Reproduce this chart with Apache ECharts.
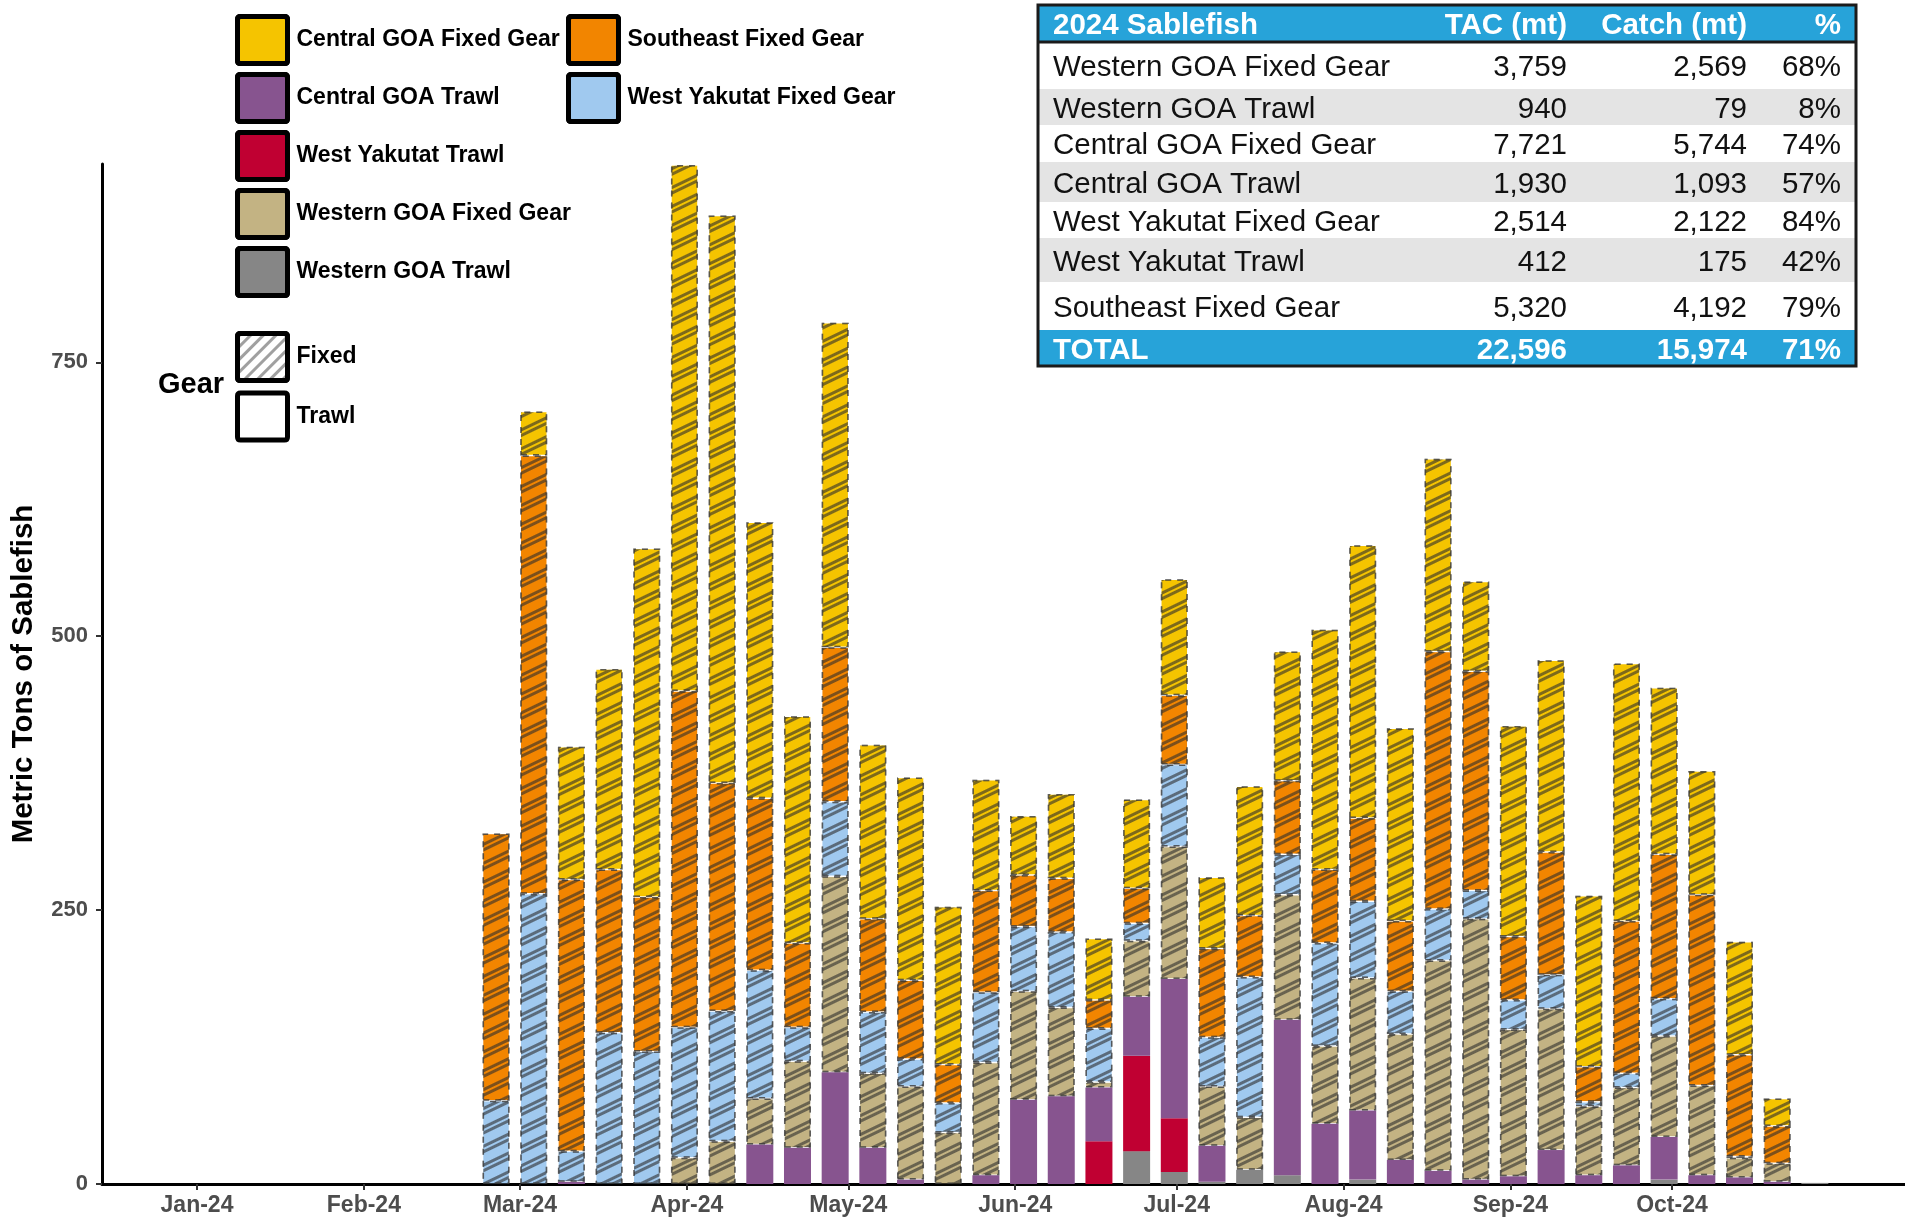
<!DOCTYPE html>
<html>
<head>
<meta charset="utf-8">
<title>2024 Sablefish catch by week</title>
<script src="https://cdn.jsdelivr.net/npm/echarts@6/dist/echarts.min.js"></script>
<style>
  html, body { margin: 0; padding: 0; background: #fff; }
  #chart { width: 1905px; height: 1217px; }
</style>
</head>
<body>
<div id="chart"></div>
<script>
// weekly catch (mt), week starting Monday
var weeks = ['2024-02-26','2024-03-04','2024-03-11','2024-03-18','2024-03-25',
  '2024-04-01','2024-04-08','2024-04-15','2024-04-22','2024-04-29',
  '2024-05-06','2024-05-13','2024-05-20','2024-05-27',
  '2024-06-03','2024-06-10','2024-06-17','2024-06-24',
  '2024-07-01','2024-07-08','2024-07-15','2024-07-22','2024-07-29',
  '2024-08-05','2024-08-12','2024-08-19','2024-08-26',
  '2024-09-02','2024-09-09','2024-09-16','2024-09-23','2024-09-30',
  '2024-10-07','2024-10-14','2024-10-21','2024-10-28'];

var westernGoaTrawl   = [0,0,0,0,0,0,0,0,0,0,0,0,0,0,0,0,0,30,11,2,13,8,0,4,0,0,0,0,0,0,0,4,0,0,0,1];
var westYakutatTrawl  = [0,0,0,0,0,0,0,0,0,0,0,0,0,0,0,0,39,87,49,0,0,0,0,0,0,0,0,0,0,0,0,0,0,0,0,0];
var centralGoaTrawl   = [0,0,2,0,0,0,0,36,33,102,33,4,0,8,77,80,49,54,127,33,0,142,55,63,22,12,4,7,31,8,17,39,8,6,2,0];
var westernGoaFixed   = [0,0,0,0,0,24,39,42,79,179,68,85,47,103,99,81,5,51,121,54,48,114,71,121,115,192,238,134,129,63,71,92,82,18,17,0];
var westYakutatFixed  = [76,265,28,138,121,119,119,117,31,68,56,25,27,64,59,69,49,16,75,45,128,37,94,70,39,47,26,27,31,4,13,34,0,1,0,0];
var southeastFixed    = [244,400,248,149,141,307,208,157,77,141,85,72,35,93,47,49,26,32,63,81,56,67,67,76,64,235,200,58,112,32,139,132,174,93,34,0];
var centralGoaFixed   = [0,40,121,183,318,480,518,252,207,296,159,185,144,101,54,77,56,81,106,65,118,118,219,249,176,176,82,192,175,156,235,152,113,103,25,0];

var monthTicks  = ['2024-01-01','2024-02-01','2024-03-01','2024-04-01','2024-05-01',
  '2024-06-01','2024-07-01','2024-08-01','2024-09-01','2024-10-01'];
var monthLabels = ['Jan-24','Feb-24','Mar-24','Apr-24','May-24','Jun-24','Jul-24','Aug-24','Sep-24','Oct-24'];
var yTicks = [0, 250, 500, 750];

// summary table
var tableHeader = ['2024 Sablefish', 'TAC (mt)', 'Catch (mt)', '%'];
var tableNames = ['Western GOA Fixed Gear','Western GOA Trawl','Central GOA Fixed Gear','Central GOA Trawl',
  'West Yakutat Fixed Gear','West Yakutat Trawl','Southeast Fixed Gear'];
var tableTac   = [3759, 940, 7721, 1930, 2514, 412, 5320];
var tableCatch = [2569, 79, 5744, 1093, 2122, 175, 4192];
var tablePct   = [68, 8, 74, 57, 84, 42, 79];
var totalTac = 22596, totalCatch = 15974, totalPct = 71;

function ts(s) {
  var p = s.split('-');
  return Date.UTC(+p[0], +p[1] - 1, +p[2]);
}
var weekTs = weeks.map(ts);
var monthTs = monthTicks.map(ts);

var FONT = '"Liberation Sans", Arial, Helvetica, sans-serif';

var stripe = {
  symbol: 'rect',
  symbolSize: 1,
  symbolKeepAspect: false,
  color: 'rgba(45,45,45,0.6)',
  dashArrayX: [1, 0],
  dashArrayY: [2.5, 2, 2.5, 8.5],
  rotation: -Math.PI / 7
};

// bottom of stack first
var stackDefs = [
  { name: 'Western GOA Trawl',       vals: westernGoaTrawl,  color: '#868686', fixed: false },
  { name: 'West Yakutat Trawl',      vals: westYakutatTrawl, color: '#c00032', fixed: false },
  { name: 'Central GOA Trawl',       vals: centralGoaTrawl,  color: '#87548f', fixed: false },
  { name: 'Western GOA Fixed Gear',  vals: westernGoaFixed,  color: '#c3b383', fixed: true },
  { name: 'West Yakutat Fixed Gear', vals: westYakutatFixed, color: '#a0c9ef', fixed: true },
  { name: 'Southeast Fixed Gear',    vals: southeastFixed,   color: '#f28500', fixed: true },
  { name: 'Central GOA Fixed Gear',  vals: centralGoaFixed,  color: '#f5c400', fixed: true }
];

var series = stackDefs.map(function (d) {
  var itemStyle = { color: d.color };
  if (d.fixed) {
    itemStyle.decal = stripe;
    itemStyle.borderColor = 'rgba(55,55,55,0.55)';
    itemStyle.borderWidth = 1.5;
    itemStyle.borderType = [6, 6];
  }
  return {
    name: d.name,
    type: 'bar',
    stack: 'total',
    barWidth: 27,
    // tonnage first: echarts stacks the first numeric dimension
    dimensions: ['mt', 'week'],
    encode: { x: 'week', y: 'mt' },
    itemStyle: itemStyle,
    data: d.vals.map(function (v, i) { return [v > 0 ? v : '-', weekTs[i]]; })
  };
});
// gear key entries
series.push({ name: 'Fixed', type: 'bar', data: [],
  itemStyle: { color: '#fff', decal: { symbol: 'rect', symbolSize: 1, symbolKeepAspect: false,
    color: 'rgba(150,150,150,0.9)', dashArrayX: [1, 0], dashArrayY: [3, 6], rotation: -Math.PI / 4 } } });
series.push({ name: 'Trawl', type: 'bar', data: [], itemStyle: { color: '#fff' } });

var keyIcon = 'path://M3,0H47Q50,0 50,3V44Q50,47 47,47H3Q0,47 0,44V3Q0,0 3,0Z';
var clearDecal = { color: 'rgba(0,0,0,0)', dashArrayX: [1, 0], dashArrayY: [1, 0] };
function legendBox(data, left, top, gap, decal) {
  var ist = { borderColor: '#000', borderWidth: 5 };
  if (decal) ist.decal = decal;
  return {
    data: data, orient: 'vertical', left: left, top: top,
    itemWidth: 50, itemHeight: 47, itemGap: gap, icon: keyIcon,
    selectedMode: false, itemStyle: ist,
    textStyle: { fontFamily: FONT, fontWeight: 'bold', fontSize: 23, color: '#000', padding: [0, 0, 0, 4] }
  };
}

// table graphics
var colX = { name: 1053, tac: 1567, cat: 1747, pct: 1841 };
var rowTop = [5, 42, 89, 125, 162, 202, 238, 282, 330];
var rowBottom = 366;
var tableLeft = 1038, tableRight = 1856;
var blue = '#27a3d9';
var graphics = [];
function fmt(n) { return n.toLocaleString('en-US'); }
function rowRect(i, fill) {
  var y0 = rowTop[i], y1 = i + 1 < rowTop.length ? rowTop[i + 1] : rowBottom;
  graphics.push({ type: 'rect', shape: { x: tableLeft, y: y0, width: tableRight - tableLeft, height: y1 - y0 },
    style: { fill: fill }, silent: true });
  return (y0 + y1) / 2 + 2.5;
}
function rowText(cy, texts, bold, color) {
  var keys = ['name', 'tac', 'cat', 'pct'];
  texts.forEach(function (t, k) {
    graphics.push({ type: 'text', x: colX[keys[k]], y: cy, silent: true,
      style: { text: t, font: (bold ? 'bold ' : '') + '29.5px ' + FONT, fill: color,
        align: k === 0 ? 'left' : 'right', verticalAlign: 'middle' } });
  });
}
rowText(rowRect(0, blue), tableHeader, true, '#fff');
tableNames.forEach(function (n, i) {
  var cy = rowRect(i + 1, i % 2 === 1 ? '#e4e4e4' : '#fff');
  rowText(cy, [n, fmt(tableTac[i]), fmt(tableCatch[i]), tablePct[i] + '%'], false, '#111');
});
rowText(rowRect(8, blue), ['TOTAL', fmt(totalTac), fmt(totalCatch), totalPct + '%'], true, '#fff');
graphics.push({ type: 'line', shape: { x1: tableLeft, y1: 42, x2: tableRight, y2: 42 },
  style: { stroke: '#1b1b1b', lineWidth: 3 }, silent: true });
graphics.push({ type: 'rect', shape: { x: tableLeft, y: 5, width: tableRight - tableLeft, height: rowBottom - 5 },
  style: { fill: 'none', stroke: '#1b1b1b', lineWidth: 3 }, silent: true });
graphics.push({ type: 'text', x: 158, y: 385, silent: true,
  style: { text: 'Gear', font: 'bold 29px ' + FONT, fill: '#000', align: 'left', verticalAlign: 'middle' } });

var chart = echarts.init(document.getElementById('chart'));
chart.setOption({
  animation: false,
  backgroundColor: '#fff',
  grid: { left: 102, right: 0, top: 164, bottom: 30 },
  legend: [
    legendBox(['Central GOA Fixed Gear', 'Central GOA Trawl', 'West Yakutat Trawl', 'Western GOA Fixed Gear', 'Western GOA Trawl'], 230, 9, 6, clearDecal),
    legendBox(['Southeast Fixed Gear', 'West Yakutat Fixed Gear'], 561, 9, 6, clearDecal),
    legendBox(['Fixed', 'Trawl'], 230, 326, 7.5, null)
  ],
  xAxis: {
    type: 'value',
    min: Date.UTC(2023, 11, 14, 8, 24),
    max: Date.UTC(2024, 10, 13, 7, 12),
    axisLine: { lineStyle: { color: '#000', width: 3 } },
    axisTick: { customValues: monthTs, length: 6, lineStyle: { color: '#333', width: 2 } },
    axisLabel: {
      customValues: monthTs,
      margin: 10,
      color: '#4d4d4d', fontFamily: FONT, fontWeight: 'bold', fontSize: 23,
      formatter: function (v) { return monthLabels[monthTs.indexOf(+v)] || ''; }
    },
    splitLine: { show: false }
  },
  yAxis: {
    type: 'value',
    min: 0, max: 931,
    name: 'Metric Tons of Sablefish',
    nameLocation: 'middle',
    nameGap: 63,
    nameTextStyle: { fontFamily: FONT, fontWeight: 'bold', fontSize: 29.5, color: '#000' },
    axisLine: { show: true, lineStyle: { color: '#000', width: 3 } },
    axisTick: { show: true, customValues: yTicks, length: 6, lineStyle: { color: '#333', width: 2 } },
    axisLabel: { customValues: yTicks, margin: 14, color: '#4d4d4d', fontFamily: FONT, fontWeight: 'bold', fontSize: 22 },
    splitLine: { show: false }
  },
  graphic: graphics,
  series: series
});
</script>
</body>
</html>
